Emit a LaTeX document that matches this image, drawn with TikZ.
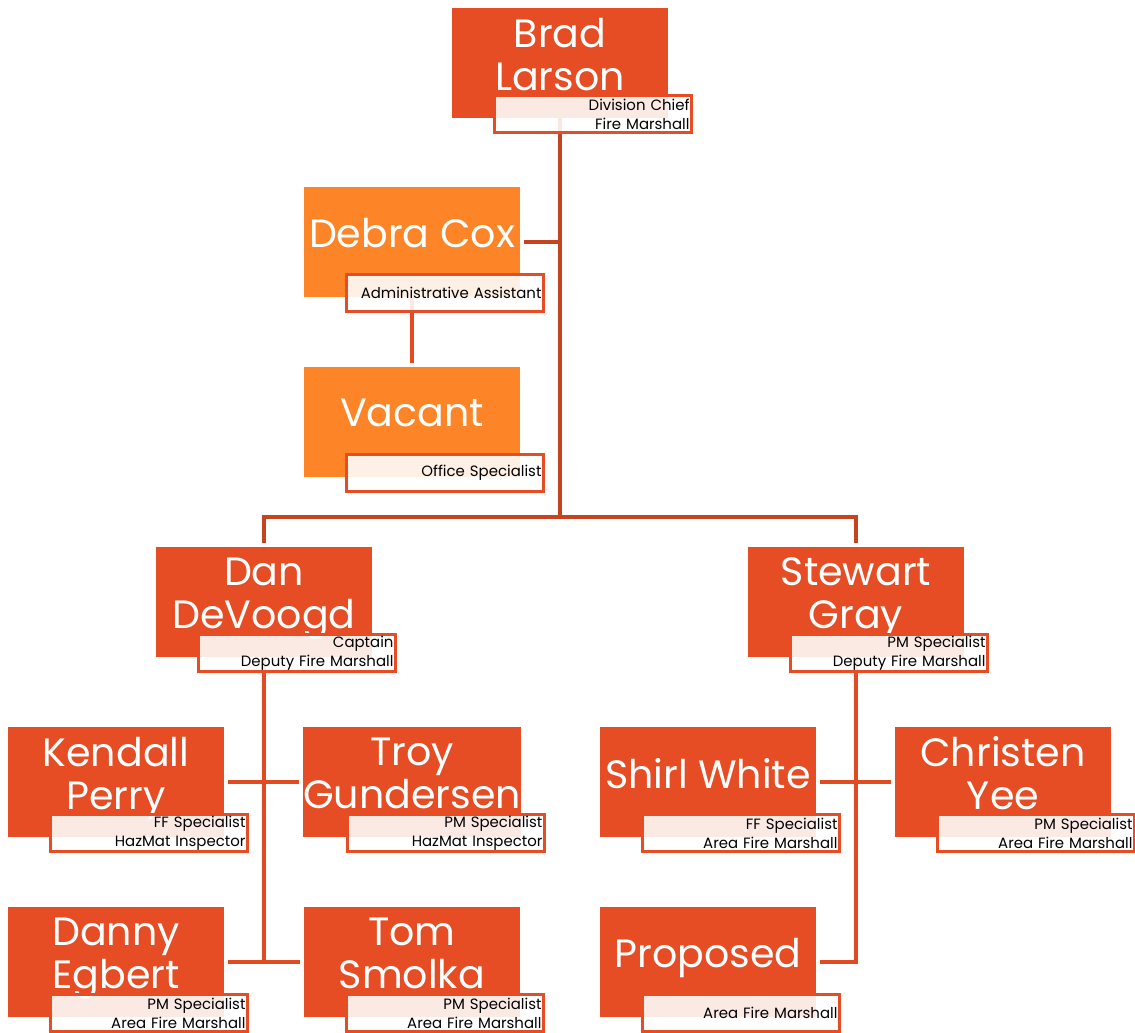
\documentclass[tikz,border=0pt]{standalone}
\usepackage{fontspec}
\setmainfont{Poppins}
\usepackage{xcolor}
\usetikzlibrary{positioning,calc,backgrounds}
\definecolor{unitred}{HTML}{E64D24}
\definecolor{unitorange}{HTML}{FE8527}
\definecolor{linkred}{HTML}{E24B22}
\definecolor{trunkred}{HTML}{C5441F}

\begin{document}
\begin{tikzpicture}[
  x=0.02cm, y=-0.02cm,
  every node/.style={inner sep=0pt, outer sep=0pt},
  unit/.style={fill=unitred, minimum width=4.32cm, minimum height=2.2cm, align=center, text=white, font=\fontsize{22.5}{24.4}\selectfont, text depth=0.36cm},
  aide/.style={unit, fill=unitorange},
  role/.style={draw=unitred, line width=1.7pt, fill=white, fill opacity=0.88, text opacity=1, text width=3.86cm, inner xsep=0.04cm, minimum height=0.74cm, align=right, font=\fontsize{8.5}{10.8}\selectfont, anchor=south east},
  link/.style={draw=linkred, line width=2pt},
  trunk/.style={link, draw=trunkred},
  trim/.style={shorten <=2.3pt, shorten >=2.3pt}
]
\useasboundingbox (0,0) rectangle (1135,1032);

% top
\node[unit] (brad) at (560,63) {Brad\\Larson};
\node[role] (brad-r) at ($(brad.south east)+(23.5,14.5)$) {Division Chief\\Fire Marshall};

% office staff
\node[aide] (debra) at (412,242) {Debra Cox};
\node[role] (debra-r) at ($(debra.south east)+(23.5,14.5)$) {Administrative Assistant};
\node[aide] (vacant) at (412,422) {Vacant};
\node[role] (vacant-r) at ($(vacant.south east)+(23.5,14.5)$) {Office Specialist};

% deputies
\node[unit] (dan) at (264,602) {Dan\\DeVoogd};
\node[role] (dan-r) at ($(dan.south east)+(23.5,14.5)$) {Captain\\Deputy Fire Marshall};
\node[unit] (stewart) at (856,602) {Stewart\\Gray};
\node[role] (stewart-r) at ($(stewart.south east)+(23.5,14.5)$) {PM Specialist\\Deputy Fire Marshall};

% left team
\node[unit] (kendall) at (116,782) {Kendall\\Perry};
\node[role] (kendall-r) at ($(kendall.south east)+(23.5,14.5)$) {FF Specialist\\HazMat Inspector};
\node[unit] (troy) at (412,782) {Troy\\Gundersen};
\node[role] (troy-r) at ($(troy.south east)+(23.5,14.5)$) {PM Specialist\\HazMat Inspector};
\node[unit] (danny) at (116,962) {Danny\\Egbert};
\node[role] (danny-r) at ($(danny.south east)+(23.5,14.5)$) {PM Specialist\\Area Fire Marshall};
\node[unit] (tom) at (412,962) {Tom\\Smolka};
\node[role] (tom-r) at ($(tom.south east)+(23.5,14.5)$) {PM Specialist\\Area Fire Marshall};

% right team
\node[unit] (shirl) at (708,782) {Shirl White};
\node[role] (shirl-r) at ($(shirl.south east)+(23.5,14.5)$) {FF Specialist\\Area Fire Marshall};
\node[unit] (christen) at (1003,782) {Christen\\Yee};
\node[role] (christen-r) at ($(christen.south east)+(23.5,14.5)$) {PM Specialist\\Area Fire Marshall};
\node[unit] (proposed) at (708,962) {Proposed};
\node[role] (proposed-r) at ($(proposed.south east)+(23.5,14.5)$) {Area Fire Marshall};

\coordinate (split) at (560,517);
\coordinate (dan-end) at (264,961);

\begin{scope}[on background layer]
\draw[trunk] (brad) -- (split);
\draw[trunk, shorten <=2.3pt] (debra.east) -- (debra.east -| brad);
\draw[link, shorten >=2.3pt] (debra) -- (vacant.north);
\draw[trunk, trim] (dan.north) |- (split) -| (stewart.north);
\draw[link] (dan) -- (dan-end);
\draw[link, trim] (kendall.east) -- (troy.west);
\draw[link, trim] (danny.east) -- (tom.west);
\draw[link, shorten >=2.3pt] (stewart) |- (proposed.east);
\draw[link, trim] (shirl.east) -- (christen.west);
\end{scope}
\end{tikzpicture}
\end{document}
